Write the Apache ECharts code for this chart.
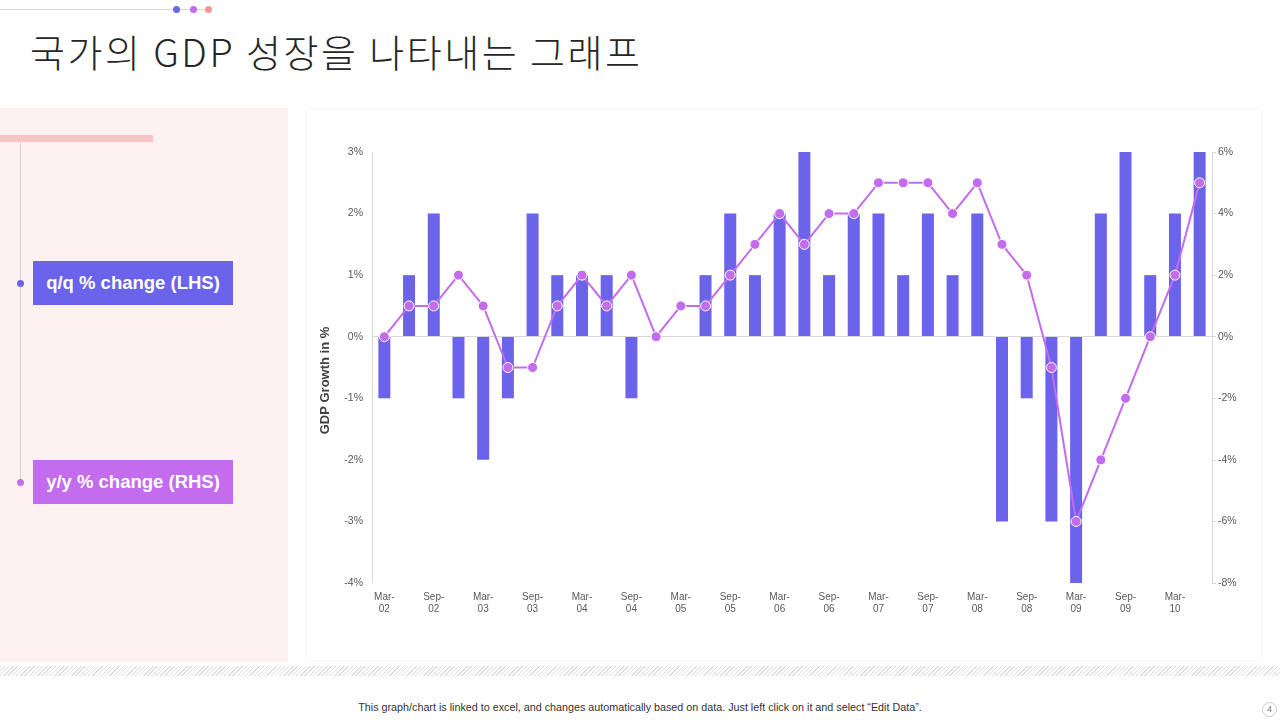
<!DOCTYPE html>
<html>
<head>
<meta charset="utf-8">
<script src="https://cdn.jsdelivr.net/npm/echarts@6/dist/echarts.min.js"></script>
<style>
    html, body { margin: 0; padding: 0; }
    body { width: 1280px; height: 720px; position: relative; overflow: hidden; background: #fff; font-family: "Liberation Sans", Arial, sans-serif; }
    .top-line { position: absolute; left: 0; top: 9px; width: 172px; height: 1px; background: #d9d9d9; }
    .dot { position: absolute; top: 6px; width: 7px; height: 7px; border-radius: 50%; }
    .dot-link { position: absolute; top: 9px; height: 1px; background: #d9d9d9; }
    .title { position: absolute; left: 30px; top: 23px; font-family: "Noto Sans CJK KR", sans-serif; font-weight: 300; font-size: 38px; letter-spacing: 2.5px; color: #262626; white-space: nowrap; }
    .side { position: absolute; left: 0; top: 108px; width: 288px; height: 554px; background: #fdf2f1; }
    .side-bar { position: absolute; left: 0; top: 135px; width: 153px; height: 7px; background: #fbc4c4; }
    .side-line { position: absolute; left: 20px; top: 142px; width: 1px; height: 340px; background: #d0cfd3; }
    .side-dot { position: absolute; left: 17px; width: 7px; height: 7px; border-radius: 50%; }
    .tag { position: absolute; left: 33px; width: 200px; height: 44px; line-height: 44px; text-align: center; color: #fff; font-weight: bold; font-size: 18.5px; }
    .card { position: absolute; left: 307px; top: 110px; width: 954px; height: 550px; background: #fff; box-shadow: 0 0 3px rgba(0,0,0,0.08); }
    #chart { position: absolute; left: 0; top: 0; width: 954px; height: 550px; }
    .hatch { position: absolute; left: 0; top: 666px; width: 1280px; height: 10px; background: repeating-linear-gradient(135deg, #dedede 0px, #dedede 1px, #fff 1px, #fff 3px); }
    .footer { position: absolute; left: 0; width: 1280px; top: 701px; text-align: center; font-size: 10.75px; color: #333; }
    .page { position: absolute; left: 1262px; top: 702px; width: 13px; height: 13px; border: 1px solid #ccc; border-radius: 50%; font-size: 9px; line-height: 13px; text-align: center; color: #777; }
</style>
</head>
<body>
<div class="top-line"></div>
<div class="dot" style="left:173px;background:#6c63eb"></div>
<div class="dot-link" style="left:180px;width:10px"></div>
<div class="dot" style="left:190px;background:#c36cee"></div>
<div class="dot-link" style="left:197px;width:8px"></div>
<div class="dot" style="left:205px;background:#f59494"></div>
<div class="title">국가의 GDP 성장을 나타내는 그래프</div>

<div class="side"></div>
<div class="side-bar"></div>
<div class="side-line"></div>
<div class="side-dot" style="top:280px;background:#6c63eb"></div>
<div class="tag" style="top:261px;background:#6c63eb">q/q % change (LHS)</div>
<div class="side-dot" style="top:479px;background:#c36cee"></div>
<div class="tag" style="top:460px;background:#c36cee">y/y % change (RHS)</div>

<div class="card"><div id="chart"></div></div>
<div class="hatch"></div>
<div class="footer">This graph/chart is linked to excel, and changes automatically based on data. Just left click on it and select “Edit Data”.</div>
<div class="page">4</div>

<script>
    //分类(季度)
    var quarters = ['Mar-02', 'Jun-02', 'Sep-02', 'Dec-02', 'Mar-03', 'Jun-03', 'Sep-03', 'Dec-03',
        'Mar-04', 'Jun-04', 'Sep-04', 'Dec-04', 'Mar-05', 'Jun-05', 'Sep-05', 'Dec-05',
        'Mar-06', 'Jun-06', 'Sep-06', 'Dec-06', 'Mar-07', 'Jun-07', 'Sep-07', 'Dec-07',
        'Mar-08', 'Jun-08', 'Sep-08', 'Dec-08', 'Mar-09', 'Jun-09', 'Sep-09', 'Dec-09',
        'Mar-10', 'Jun-10'];
    //q/q % change (LHS)
    var qqChange = [-1, 1, 2, -1, -2, -1, 2, 1, 1, 1, -1, 0, 0, 1, 2, 1,
        2, 3, 1, 2, 2, 1, 2, 1, 2, -3, -1, -3, -4, 2, 3, 1, 2, 3];
    //y/y % change (RHS)
    var yyChange = [0, 1, 1, 2, 1, -1, -1, 1, 2, 1, 2, 0, 1, 1, 2, 3,
        4, 3, 4, 4, 5, 5, 5, 4, 5, 3, 2, -1, -6, -4, -2, 0, 2, 5];

    var barColor = '#6c63eb';
    var lineColor = '#c36cee';
    var labelColor = '#595959';
    var axisColor = '#d9d9d9';

    var chart = echarts.init(document.getElementById('chart'));
    var option = {
        animation: false,
        textStyle: { fontFamily: 'Liberation Sans, Arial, sans-serif' },
        grid: { left: 65, right: 49, top: 42, bottom: 77 },
        xAxis: {
            type: 'category',
            data: quarters,
            axisLine: { show: false, onZero: false },
            axisTick: { show: false },
            axisLabel: {
                interval: 1,
                margin: 8,
                fontSize: 10,
                lineHeight: 12,
                color: labelColor,
                formatter: function (v) { return v.replace('-', '-\n'); }
            }
        },
        yAxis: [
            {
                type: 'value',
                min: -4,
                max: 3,
                interval: 1,
                name: 'GDP Growth in %',
                nameLocation: 'middle',
                nameGap: 40,
                nameTextStyle: { fontSize: 13, fontWeight: 'bold', color: '#404040', padding: [0, 26, 0, 0] },
                axisLine: { show: true, lineStyle: { color: axisColor } },
                axisTick: { show: false },
                splitLine: { show: false },
                axisLabel: { fontSize: 10.5, color: labelColor, margin: 9, formatter: '{value}%' }
            },
            {
                type: 'value',
                min: -8,
                max: 6,
                interval: 2,
                axisLine: { show: true, lineStyle: { color: axisColor } },
                axisTick: { show: true, length: 4, lineStyle: { color: axisColor } },
                splitLine: { show: false },
                axisLabel: { fontSize: 10.5, color: labelColor, margin: 6, formatter: '{value}%' }
            }
        ],
        series: [
            {
                name: 'q/q % change (LHS)',
                type: 'bar',
                barWidth: 12,
                itemStyle: { color: barColor },
                data: qqChange,
                markLine: {
                    silent: true,
                    symbol: 'none',
                    label: { show: false },
                    lineStyle: { color: axisColor, type: 'solid', width: 1 },
                    data: [{ yAxis: 0 }]
                }
            },
            {
                name: 'y/y % change (RHS)',
                type: 'line',
                yAxisIndex: 1,
                symbol: 'circle',
                symbolSize: 10,
                lineStyle: { color: lineColor, width: 2 },
                itemStyle: { color: lineColor, borderColor: '#fff', borderWidth: 1 },
                z: 5,
                data: yyChange
            }
        ]
    };
    chart.setOption(option);
</script>
</body>
</html>
